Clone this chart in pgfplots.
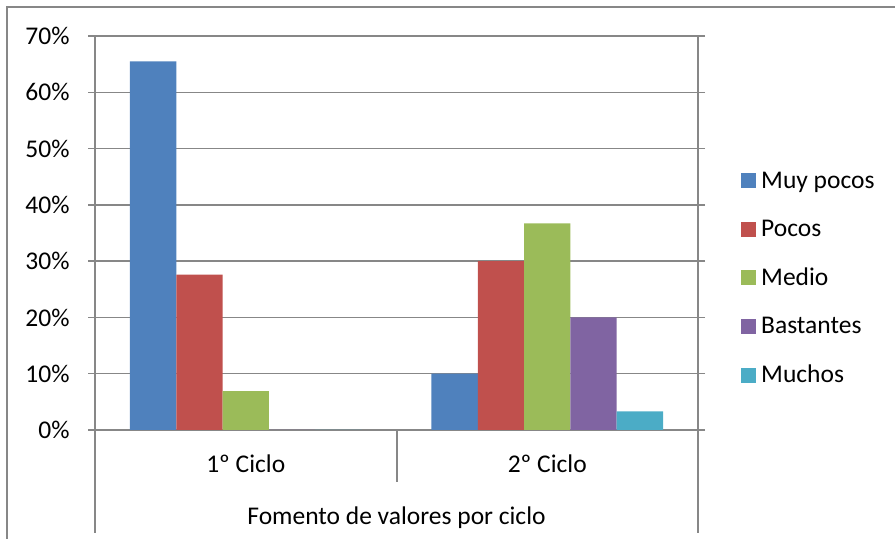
\documentclass[border=0pt]{standalone}
\usepackage{pgfplots}
\pgfplotsset{compat=1.18}
\usepackage{fontspec}
\setmainfont{Carlito}
\definecolor{c1}{HTML}{4F81BD}
\definecolor{c2}{HTML}{C0504D}
\definecolor{c3}{HTML}{9BBB59}
\definecolor{c4}{HTML}{8064A2}
\definecolor{c5}{HTML}{4BACC6}
\definecolor{gridc}{HTML}{878787}
\begin{document}
\begin{tikzpicture}[x=1bp,y=1bp]
\path[use as bounding box] (0,0) rectangle (895,539);
\draw[gridc, line width=1.5bp] (7,-5) -- (7,532) -- (900,532);
\begin{axis}[
  at={(95bp,109bp)}, anchor=south west,
  scale only axis, width=603bp, height=394bp,
  font=\fontsize{25.5bp}{30bp}\selectfont,
  /pgf/number format/assume math mode=true,
  xmin=-0.5, xmax=1.5, ymin=0, ymax=70,
  ytick={0,10,...,70},
  yticklabel={\pgfmathprintnumber{\tick}\%},
  yticklabel style={xshift=-15bp},
  xtick={0,1},
  xticklabels={1º Ciclo,2º Ciclo},
  xticklabel style={anchor=base, yshift=-36bp},
  tick align=outside, major tick length=7bp,
  xtick style={draw=none},
  ytick style={gridc, line width=1.5bp},
  axis line style={gridc, line width=1.5bp},
  ymajorgrids, grid style={gridc, line width=1.5bp},
  xlabel={Fomento de valores por ciclo},
  xlabel style={at={(axis description cs:0.5,0)}, anchor=base, yshift=-95bp},
  ybar, bar width=0.1536,
  every axis plot/.append style={draw=none},
  legend cell align=left,
  legend image code/.code={\fill[#1] (0bp,-3.5bp) rectangle (15bp,11.5bp);},
  legend style={at={(1.0713,0.3797)}, anchor=west, draw=none, fill=none,
    inner sep=0pt, row sep=28.6bp, column sep=5bp,
    nodes={inner sep=0pt, text height=12bp, text depth=5bp}},
]
\addplot[fill=c1, bar shift=-0.3072] coordinates {(0,65.5) (1,10)};
\addplot[fill=c2, bar shift=-0.1536] coordinates {(0,27.6) (1,30)};
\addplot[fill=c3, bar shift=0] coordinates {(0,6.9) (1,36.7)};
\addplot[fill=c4, bar shift=0.1536] coordinates {(0,0) (1,20)};
\addplot[fill=c5, bar shift=0.3072] coordinates {(0,0) (1,3.3)};
\legend{Muy pocos,Pocos,Medio,Bastantes,Muchos}
\end{axis}
\draw[gridc, line width=1.5bp] (95,109) -- (95,6);
\draw[gridc, line width=1.5bp] (698,109) -- (698,6);
\draw[gridc, line width=1.5bp] (397,109) -- (397,57);
\end{tikzpicture}
\end{document}
